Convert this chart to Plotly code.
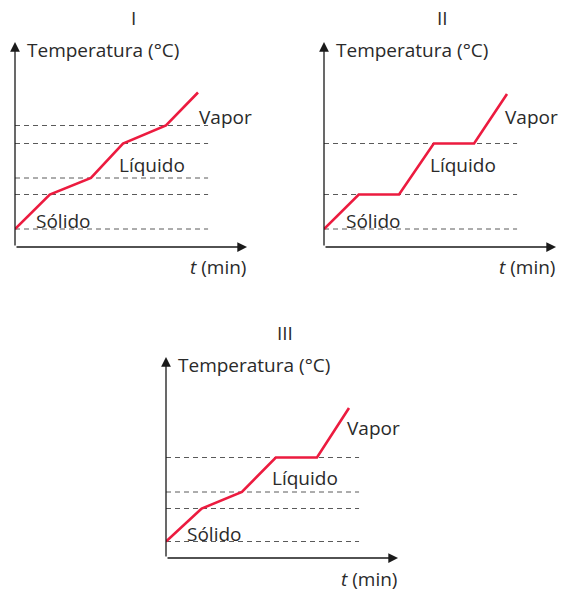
import plotly.graph_objects as go

# Heating curves: time (min) vs temperature (°C) for three substances
time_I = [0, 1.9, 4.15, 5.9, 8.25, 10]
temp_I = [12, 35, 46, 69, 81, 103]

time_II = [0, 1.9, 4.1, 6.0, 8.2, 10]
temp_II = [12, 35, 35, 69, 69, 102]

time_III = [0, 1.95, 4.15, 6.0, 8.25, 10]
temp_III = [11, 33, 44, 67, 67, 100]

# Reference temperatures marked with dashed lines
levels_I = [12, 35, 46, 69, 81]
levels_II = [12, 35, 69]
levels_III = [11, 33, 44, 67]

titles = ["I", "II", "III"]
y_label = "Temperatura (°C)"
x_label = "<i>t</i> (min)"
phase_labels = ["Sólido", "Líquido", "Vapor"]

W, H = 561, 592
RED = "#EC1B3F"
INK = "#2a2a2a"
FONT = "Open Sans"
FS = 19

X_MAX = 12.68   # time-axis extent (arrow tip)
DASH_END = 10.55
BELOW = 34      # room under the time axis for its label (px)

panels = [
    dict(t=time_I, T=temp_I, levels=levels_I, origin=(15, 247), ylen=205, title=titles[0],
         title_xy=(133, 18), xlab_dy=-20,
         phases=[(1.05, 17.5), (5.6, 55), (9.95, 87)]),
    dict(t=time_II, T=temp_II, levels=levels_II, origin=(324, 247), ylen=205, title=titles[1],
         title_xy=(442, 18), xlab_dy=-20,
         phases=[(1.1, 17.5), (5.7, 55), (9.8, 87)]),
    dict(t=time_III, T=temp_III, levels=levels_III, origin=(166, 558), ylen=201, title=titles[2],
         title_xy=(285, 333), xlab_dy=-21,
         phases=[(1.05, 16), (5.7, 53.5), (9.8, 86.5)]),
]

PX_PER_MIN = 18.3
PX_PER_DEG = 1.5

fig = go.Figure()
annotations = []
shapes = []

for i, p in enumerate(panels, start=1):
    xa = "x" if i == 1 else f"x{i}"
    ya = "y" if i == 1 else f"y{i}"
    ox, oy = p["origin"]
    below = min(BELOW, H - oy)
    xlen = X_MAX * PX_PER_MIN
    y_max = p["ylen"] / PX_PER_DEG
    y_min = -below / PX_PER_DEG
    xdom = [ox / W, (ox + xlen) / W]
    ydom = [(H - oy - below) / H, (H - oy + p["ylen"]) / H]
    axis_common = dict(visible=False, showgrid=False, zeroline=False, fixedrange=True)
    fig.update_layout(**{
        ("xaxis" if i == 1 else f"xaxis{i}"): dict(domain=xdom, range=[0, X_MAX], anchor=ya, **axis_common),
        ("yaxis" if i == 1 else f"yaxis{i}"): dict(domain=ydom, range=[y_min, y_max], anchor=xa, **axis_common),
    })

    # dashed reference levels
    for lv in p["levels"]:
        shapes.append(dict(type="line", xref=xa, yref=ya, x0=0, x1=DASH_END, y0=lv, y1=lv,
                           line=dict(color="#5a5a5a", width=1, dash="5px,4px"), layer="below"))

    # heating curve
    fig.add_trace(go.Scatter(x=p["t"], y=p["T"], mode="lines", xaxis=xa, yaxis=ya,
                             line=dict(color=RED, width=2.6), cliponaxis=False,
                             hoverinfo="skip", showlegend=False))

    # axes with arrowheads
    arrow = dict(xref=xa, yref=ya, axref=xa, ayref=ya, text="", showarrow=True,
                 arrowhead=2, arrowsize=1.5, arrowwidth=1.3, arrowcolor="#1a1a1a",
                 standoff=0, startstandoff=0)
    annotations.append(dict(x=X_MAX, y=0, ax=0, ay=0, **arrow))
    annotations.append(dict(x=0, y=y_max, ax=0, ay=0, **arrow))

    # axis titles
    annotations.append(dict(xref=xa, yref=ya, x=10 / PX_PER_MIN, y=(p["ylen"] - 8) / PX_PER_DEG,
                            text=y_label, showarrow=False, xanchor="left", yanchor="middle",
                            font=dict(family=FONT, size=FS, color=INK)))
    annotations.append(dict(xref=xa, yref=ya, x=X_MAX, y=p["xlab_dy"] / PX_PER_DEG,
                            text=x_label, showarrow=False, xanchor="right", yanchor="middle",
                            borderpad=0, font=dict(family=FONT, size=FS, color=INK)))

    # phase labels
    for name, (tx, ty) in zip(phase_labels, p["phases"]):
        annotations.append(dict(xref=xa, yref=ya, x=tx, y=ty, text=name, showarrow=False,
                                xanchor="left", yanchor="middle",
                                font=dict(family=FONT, size=FS, color=INK)))

    # panel numeral
    tx, ty = p["title_xy"]
    annotations.append(dict(xref="paper", yref="paper", x=tx / W, y=1 - ty / H, text=p["title"],
                            showarrow=False, xanchor="center", yanchor="middle",
                            font=dict(family=FONT, size=FS, color=INK)))

fig.update_layout(width=W, height=H, margin=dict(l=0, r=0, t=0, b=0),
                  paper_bgcolor="white", plot_bgcolor="white",
                  annotations=annotations, shapes=shapes, showlegend=False)

fig.write_html("out.html", config={"displayModeBar": False})
